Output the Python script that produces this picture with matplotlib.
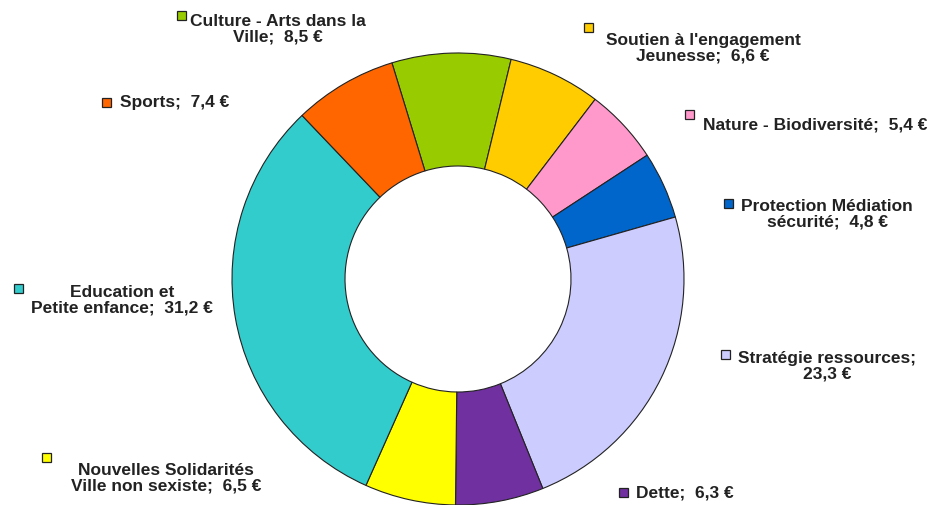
import matplotlib.pyplot as plt
from matplotlib.patches import Rectangle

# donnees (ordre horaire a partir du haut)
labels = ["Culture - Arts dans la\nVille", "Soutien à l'engagement\nJeunesse", "Nature - Biodiversité",
          "Protection Médiation\nsécurité", "Stratégie ressources;\n", "Dette",
          "Nouvelles Solidarités\nVille non sexiste", "Education et\nPetite enfance", "Sports"]
values = [8.5, 6.6, 5.4, 4.8, 23.3, 6.3, 6.5, 31.2, 7.4]
colors = ["#99CC00", "#FFCC00", "#FF99CC", "#0066CC", "#CCCCFF",
          "#7030A0", "#FFFF00", "#33CCCC", "#FF6600"]

# mise en page des etiquettes (pixels, origine en haut a gauche): marqueur, texte, alignement
label_pos = [((181, 16), (278, 29), 'center'),
             ((588, 28), (703, 48), 'center'),
             ((689, 115), (703, 125), 'left'),
             ((728, 204), (827, 214), 'center'),
             ((725, 355), (827, 366), 'center'),
             ((623, 493), (636, 493), 'left'),
             ((46, 458), (166, 478), 'center'),
             ((18, 289), (122, 300), 'center'),
             ((106, 103), (120, 103), 'left')]

W, H = 930, 506
fig = plt.figure(figsize=(W / 100, H / 100), dpi=100)

# axes carre centre sur le donut
cx, cy, r = 458, 280, 226
ax = fig.add_axes([(cx - r) / W, (H - cy - r) / H, 2 * r / W, 2 * r / H])
ax.pie(values, colors=colors, startangle=107, counterclock=False, radius=1,
       wedgeprops=dict(width=0.5, edgecolor='#222222', linewidth=0.8))
ax.set_xlim(-1, 1)
ax.set_ylim(-1, 1)
ax.axis('off')

font = dict(family=['Liberation Sans Narrow', 'Liberation Sans', 'DejaVu Sans'],
            weight='bold', size=12.5, color='#222222')

for lab, val, col, (mk, tp, ha) in zip(labels, values, colors, label_pos):
    txt = lab.rstrip('\n')
    if lab.endswith('\n'):
        txt = txt + '\n' + ('%.1f €' % val).replace('.', ',')
    else:
        txt = txt + ';  ' + ('%.1f €' % val).replace('.', ',')
    s = 9
    fig.patches.append(Rectangle(((mk[0] - s / 2) / W, (H - mk[1] - s / 2) / H), s / W, s / H,
                                 facecolor=col, edgecolor='#222222', linewidth=0.9,
                                 transform=fig.transFigure, figure=fig))
    fig.text(tp[0] / W, (H - tp[1]) / H, txt, ha=ha, va='center', multialignment='center',
             linespacing=1.05, **font)

plt.savefig("out.png", dpi=100)
